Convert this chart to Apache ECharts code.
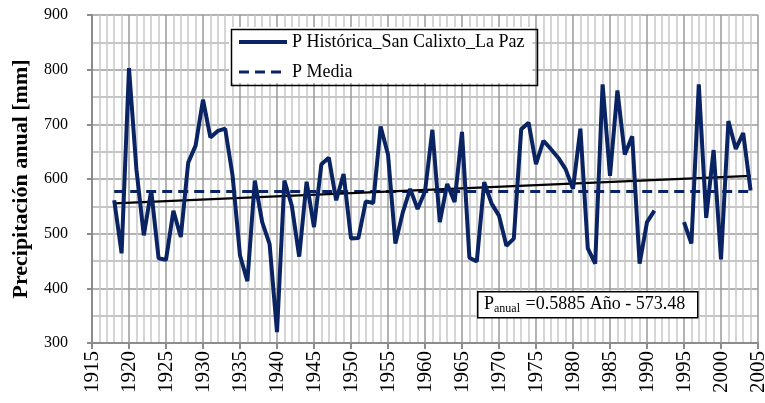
<!DOCTYPE html>
<html>
<head>
<meta charset="utf-8">
<script src="https://cdn.jsdelivr.net/npm/echarts@6/dist/echarts.min.js"></script>
<style>
  html, body { margin: 0; padding: 0; background: #fff; }
  #chart { width: 765px; height: 403px; }
</style>
</head>
<body>
<div id="chart"></div>
<script>
// Annual precipitation, San Calixto station (La Paz), 1918-2004
const years = [
  1918, 1919, 1920, 1921, 1922, 1923, 1924, 1925, 1926, 1927,
  1928, 1929, 1930, 1931, 1932, 1933, 1934, 1935, 1936, 1937,
  1938, 1939, 1940, 1941, 1942, 1943, 1944, 1945, 1946, 1947,
  1948, 1949, 1950, 1951, 1952, 1953, 1954, 1955, 1956, 1957,
  1958, 1959, 1960, 1961, 1962, 1963, 1964, 1965, 1966, 1967,
  1968, 1969, 1970, 1971, 1972, 1973, 1974, 1975, 1976, 1977,
  1978, 1979, 1980, 1981, 1982, 1983, 1984, 1985, 1986, 1987,
  1988, 1989, 1990, 1991, 1992, 1993, 1994, 1995, 1996, 1997,
  1998, 1999, 2000, 2001, 2002, 2003, 2004
];
const precip = [
  561, 464, 803, 618, 497, 579, 455, 452, 542, 494,
  630, 661, 745, 676, 688, 692, 606, 460, 413, 597,
  521, 481, 320, 597, 551, 458, 595, 512, 627, 639,
  561, 609, 491, 492, 559, 556, 696, 645, 482, 539,
  582, 545, 577, 690, 521, 591, 558, 686, 456, 449,
  594, 555, 533, 478, 491, 691, 703, 627, 670, 655,
  639, 618, 582, 692, 473, 445, 773, 606, 762, 645,
  678, 445, 521, 542, null, null, null, 521, 482, 773,
  529, 653, 453, 706, 655, 684, 579
];
const meanValue = 577;
const trendSlope = 0.5885;
const trendIntercept = -573.48;
const trendYears = [1918, 2004];

const seriesNames = ['P Histórica_San Calixto_La Paz', 'P Media'];
const yAxisTitle = 'Precipitación anual [mm]';

const serif = '"Liberation Serif", "Times New Roman", serif';
const navy = '#0a2463';

const histData = years.map((y, i) => [y, precip[i]]);
const meanData = trendYears.map(y => [y, meanValue]);
const trendData = trendYears.map(y => [y, trendSlope * y + trendIntercept]);

const chart = echarts.init(document.getElementById('chart'), null, { renderer: 'canvas' });
chart.setOption({
  animation: false,
  backgroundColor: '#ffffff',
  grid: { left: 92, right: 7, top: 15, bottom: 60, containLabel: false, outerBoundsMode: 'none' },
  legend: {
    orient: 'vertical',
    left: 229,
    top: 27,
    z: 20,
    padding: [6, 8, 2, 8],
    itemGap: 12,
    itemWidth: 48,
    itemHeight: 18,
    itemTextGap: 5,
    borderWidth: 0,
    backgroundColor: '#ffffff',
    itemStyle: { opacity: 0 },
    textStyle: { fontFamily: serif, fontSize: 18, color: '#000' },
    data: [
      { name: seriesNames[0], lineStyle: { width: 4 } },
      { name: seriesNames[1], lineStyle: { width: 3 } }
    ]
  },
  xAxis: {
    type: 'value',
    min: 1915,
    max: 2005,
    interval: 5,
    axisLine: { show: true, lineStyle: { color: '#8c8c8c', width: 2 } },
    axisTick: { show: true, inside: false, length: 6, lineStyle: { color: '#8c8c8c', width: 2 } },
    minorTick: { show: false, splitNumber: 5 },
    splitLine: { show: true, lineStyle: { color: '#9a9a9a', width: 1.5 } },
    minorSplitLine: { show: true, lineStyle: { color: '#c8c8c8', width: 1.5 } },
    axisLabel: {
      rotate: 90,
      margin: 8,
      fontFamily: serif,
      fontSize: 21,
      color: '#000',
      formatter: v => String(v)
    }
  },
  yAxis: {
    type: 'value',
    min: 300,
    max: 900,
    interval: 100,
    name: yAxisTitle,
    nameLocation: 'middle',
    nameGap: 60,
    nameTextStyle: { fontFamily: serif, fontSize: 22, fontWeight: 'bold', color: '#000' },
    axisLine: { show: true, lineStyle: { color: '#8c8c8c', width: 2 } },
    axisTick: { show: true, inside: false, length: 5, lineStyle: { color: '#8c8c8c', width: 2 } },
    minorTick: { show: false, splitNumber: 2 },
    splitLine: { show: true, lineStyle: { color: '#9a9a9a', width: 1.5 } },
    minorSplitLine: { show: true, lineStyle: { color: '#b4b4b4', width: 1.5 } },
    axisLabel: { margin: 24, fontFamily: serif, fontSize: 16, color: '#000' }
  },
  series: [
    {
      name: 'Tendencia',
      type: 'line',
      data: trendData,
      symbol: 'none',
      lineStyle: { color: '#000', width: 2.2 },
      z: 3
    },
    {
      name: seriesNames[1],
      type: 'line',
      data: meanData,
      symbol: 'none',
      color: navy,
      lineStyle: { color: navy, width: 3, type: [10, 6] },
      z: 2
    },
    {
      name: seriesNames[0],
      type: 'line',
      data: histData,
      symbol: 'none',
      connectNulls: false,
      color: navy,
      lineStyle: { color: navy, width: 4 },
      z: 4
    }
  ],
  graphic: [
    // legend frame, drawn over the legend background
    {
      type: 'rect',
      left: 229,
      top: 27,
      z: 50,
      silent: true,
      shape: { x: 0, y: 0, width: 306, height: 56 },
      style: { fill: null, stroke: '#000000', lineWidth: 1.5 }
    },
    // regression equation box
    {
      type: 'rect',
      left: 477,
      top: 291,
      z: 100,
      shape: { x: 0, y: 0, width: 220, height: 26 },
      style: { fill: '#ffffff', stroke: '#000000', lineWidth: 1.5 }
    },
    {
      type: 'text',
      left: 484,
      top: 294,
      z: 101,
      style: {
        text: '{p|P}{sub|anual}{p| =0.5885 Año - 573.48}',
        rich: {
          p: { fontFamily: serif, fontSize: 18, fill: '#000', lineHeight: 20 },
          sub: { fontFamily: serif, fontSize: 12, fill: '#000', padding: [9, 1, 0, 0], lineHeight: 20 }
        }
      }
    }
  ]
});
</script>
</body>
</html>
